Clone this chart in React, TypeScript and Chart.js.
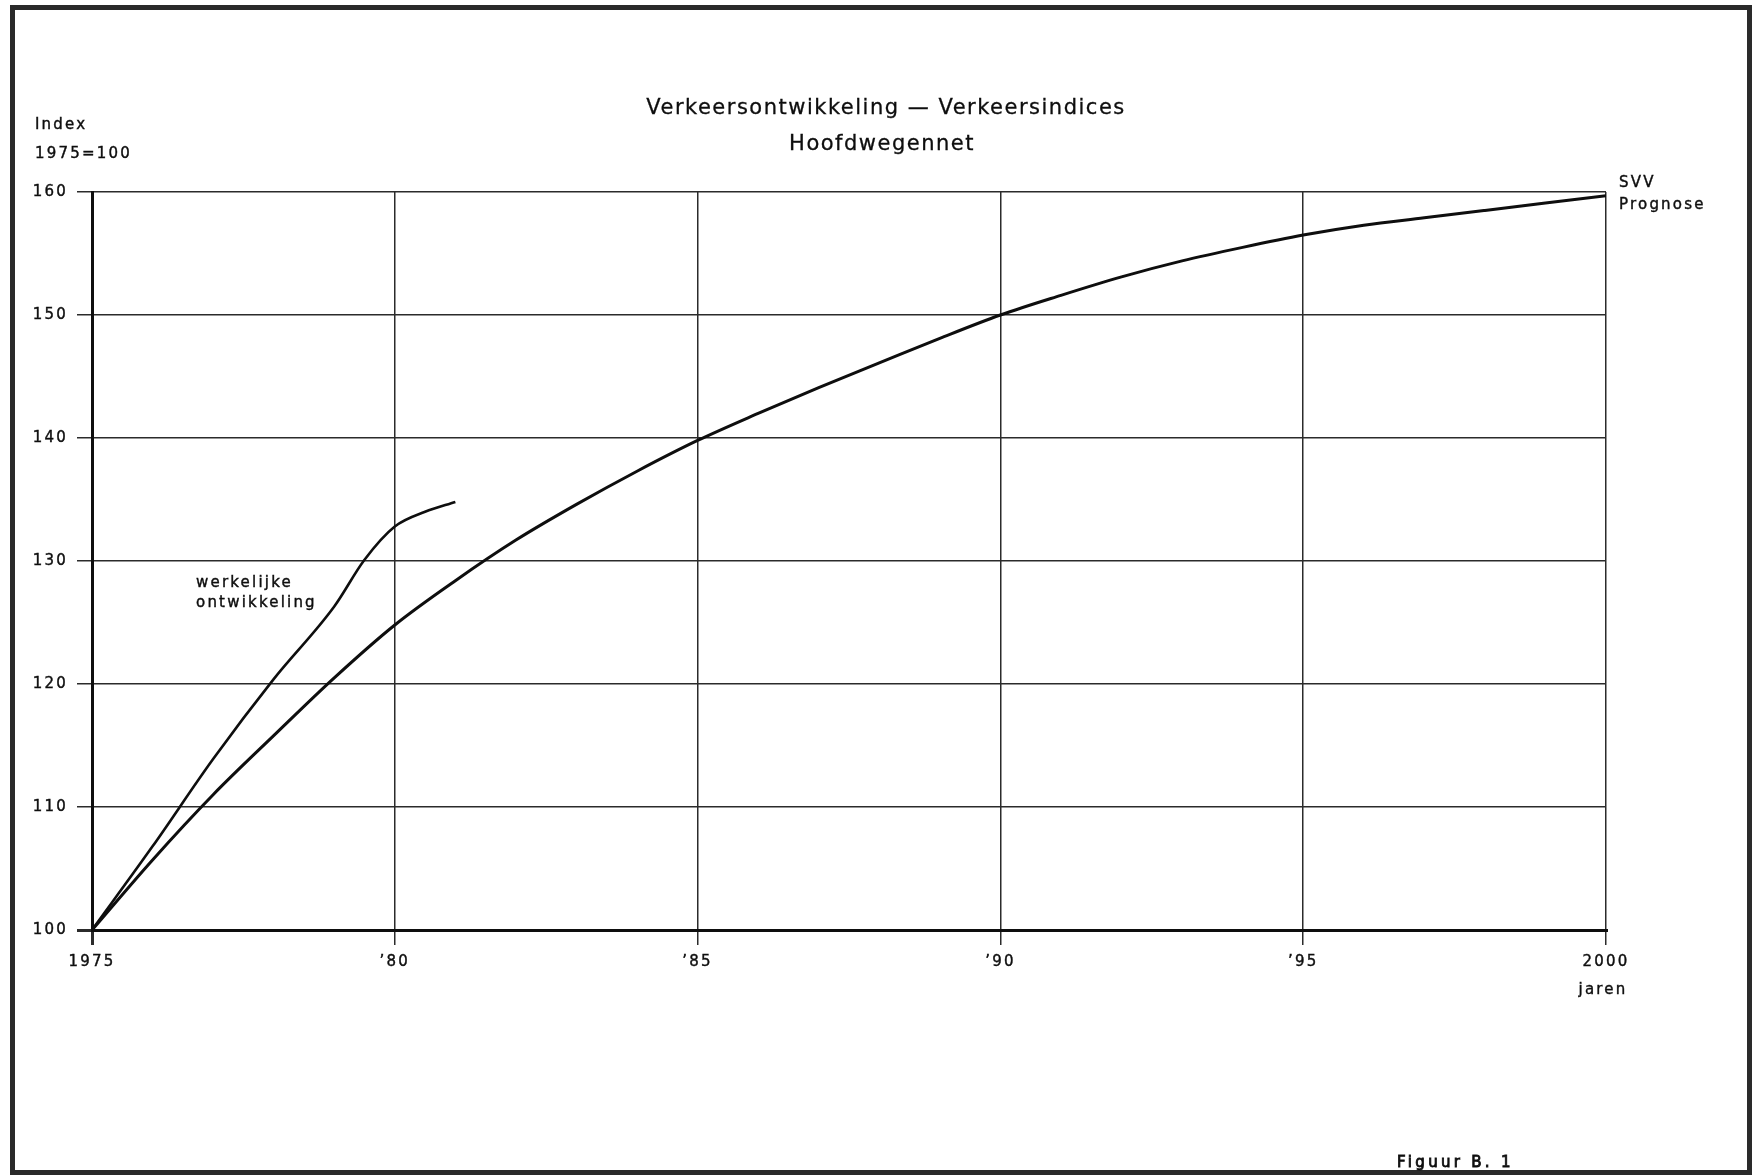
import React, { useEffect, useRef } from 'react';
import { Chart, registerables } from 'chart.js';

Chart.register(...registerables);

// ---- data ----
const xTickValues = [1975, 1980, 1985, 1990, 1995, 2000];
const xTickLabels = ['1975', '’80', '’85', '’90', '’95', '2000'];
const yTickValues = [100, 110, 120, 130, 140, 150, 160];

const svvYears = [1975, 1976, 1977, 1978, 1979, 1980, 1981, 1982, 1983, 1984, 1985, 1986, 1987, 1988, 1989, 1990, 1991, 1992, 1993, 1994, 1995, 1996, 1997, 1998, 1999, 2000];
const svvIndex = [100, 105.7, 111.0, 115.8, 120.5, 124.8, 128.4, 131.7, 134.6, 137.3, 139.8, 142.0, 144.1, 146.1, 148.1, 150.0, 151.6, 153.1, 154.4, 155.5, 156.5, 157.3, 157.9, 158.5, 159.1, 159.7];

const actualYears = [1975, 1976, 1977, 1978, 1979, 1979.5, 1980, 1980.5, 1981];
const actualIndex = [100, 106.8, 113.9, 120.4, 126.3, 130.1, 132.8, 134.0, 134.8];

const titleLines = ['Verkeersontwikkeling — Verkeersindices', 'Hoofdwegennet'];
const yAxisLabel = ['Index', '1975=100'];
const xAxisLabel = 'jaren';
const svvLabel = ['SVV', 'Prognose'];
const actualLabel = ['werkelijke', 'ontwikkeling'];
const figureLabel = 'Figuur B. 1';

const FONT = "'DejaVu Sans', sans-serif";
const INK = '#0e0e0e';

function strokeText(ctx: any, s: string, x: number, y: number, w: number) {
  ctx.fillText(s, x, y);
  if (w > 0) {
    ctx.lineWidth = w;
    ctx.strokeText(s, x, y);
  }
}

const textPlugin = {
  id: 'annotText',
  beforeDraw(chart: any) {
    const ctx = chart.ctx;
    ctx.fillStyle = '#ffffff';
    ctx.fillRect(0, 0, chart.width, chart.height);
    ctx.letterSpacing = '2.2px';
  },
  afterDraw(chart: any) {
    const ctx = chart.ctx;
    ctx.save();
    // page frame
    ctx.strokeStyle = '#2a2a2a';
    ctx.lineWidth = 5;
    ctx.strokeRect(12.5, 7.5, 1737, 1165);

    ctx.fillStyle = INK;
    ctx.strokeStyle = INK;
    ctx.textBaseline = 'middle';
    // title
    ctx.letterSpacing = '1.5px';
    ctx.font = `21px ${FONT}`;
    ctx.textAlign = 'center';
    strokeText(ctx, titleLines[0], 886, 109, 0.3);
    strokeText(ctx, titleLines[1], 882, 145, 0.3);

    ctx.letterSpacing = '2.2px';
    ctx.font = `15px ${FONT}`;
    ctx.textAlign = 'left';
    strokeText(ctx, yAxisLabel[0], 35, 125, 0.4);
    strokeText(ctx, yAxisLabel[1], 35, 154, 0.4);
    strokeText(ctx, svvLabel[0], 1619, 183, 0.4);
    strokeText(ctx, svvLabel[1], 1619, 205, 0.4);
    strokeText(ctx, actualLabel[0], 196, 583, 0.4);
    strokeText(ctx, actualLabel[1], 196, 603, 0.4);
    ctx.textAlign = 'center';
    strokeText(ctx, xAxisLabel, 1603, 990, 0.4);
    ctx.textAlign = 'left';
    ctx.letterSpacing = '3.3px';
    ctx.font = `15px ${FONT}`;
    strokeText(ctx, figureLabel, 1397, 1163, 0.8);
    ctx.restore();
  },
};

export default function App() {
  const ref = useRef<HTMLCanvasElement | null>(null);

  useEffect(() => {
    if (!ref.current) return;
    const chart = new Chart(ref.current, {
      type: 'line',
      data: {
        datasets: [
          {
            label: 'SVV Prognose',
            data: svvYears.map((x, i) => ({ x, y: svvIndex[i] })),
            borderColor: INK,
            borderWidth: 3,
            pointRadius: 0,
            cubicInterpolationMode: 'monotone',
            fill: false,
          },
          {
            label: 'werkelijke ontwikkeling',
            data: actualYears.map((x, i) => ({ x, y: actualIndex[i] })),
            borderColor: INK,
            borderWidth: 2.6,
            pointRadius: 0,
            cubicInterpolationMode: 'monotone',
            fill: false,
          },
        ],
      },
      options: {
        responsive: false,
        animation: false,
        layout: { padding: { left: 20, right: 158, top: 192, bottom: 145 } },
        plugins: {
          legend: { display: false },
          title: { display: false },
          tooltip: { enabled: false },
        },
        scales: {
          x: {
            type: 'linear',
            min: 1975,
            max: 2000,
            afterFit(scale: any) {
              scale.height = 100;
            },
            afterBuildTicks(scale: any) {
              scale.ticks = xTickValues.map((v) => ({ value: v }));
            },
            ticks: {
              autoSkip: false,
              maxRotation: 0,
              padding: 8,
              color: INK,
              textStrokeColor: INK,
              textStrokeWidth: 0.4,
              font: { family: FONT, size: 15 },
              callback: (v: any) => {
                const i = xTickValues.indexOf(Number(v));
                return i >= 0 ? xTickLabels[i] : '';
              },
            },
            grid: {
              color: '#2b2b2b',
              lineWidth: (c: any) => (c.tick && c.tick.value === 1975 ? 3 : 1.5),
              drawTicks: true,
              tickLength: 15,
            },
            border: { display: true, color: INK, width: 3 },
          },
          y: {
            type: 'linear',
            min: 100,
            max: 160,
            afterFit(scale: any) {
              scale.width = 72;
            },
            afterBuildTicks(scale: any) {
              scale.ticks = yTickValues.map((v) => ({ value: v }));
            },
            ticks: {
              autoSkip: false,
              padding: 9,
              color: INK,
              textStrokeColor: INK,
              textStrokeWidth: 0.4,
              font: { family: FONT, size: 15 },
              callback: (v: any) => String(v),
            },
            grid: {
              color: '#2b2b2b',
              lineWidth: (c: any) => (c.tick && c.tick.value === 100 ? 3 : 1.5),
              drawTicks: true,
              tickLength: 15,
            },
            border: { display: true, color: INK, width: 3 },
          },
        },
      },
      plugins: [textPlugin],
    } as any);
    return () => chart.destroy();
  }, []);

  return (
    <div style={{ position: 'fixed', left: 0, top: 0, width: 1764, height: 1175, background: '#fff' }}>
      <canvas ref={ref} width={1764} height={1175} style={{ display: 'block', width: 1764, height: 1175 }} />
    </div>
  );
}
